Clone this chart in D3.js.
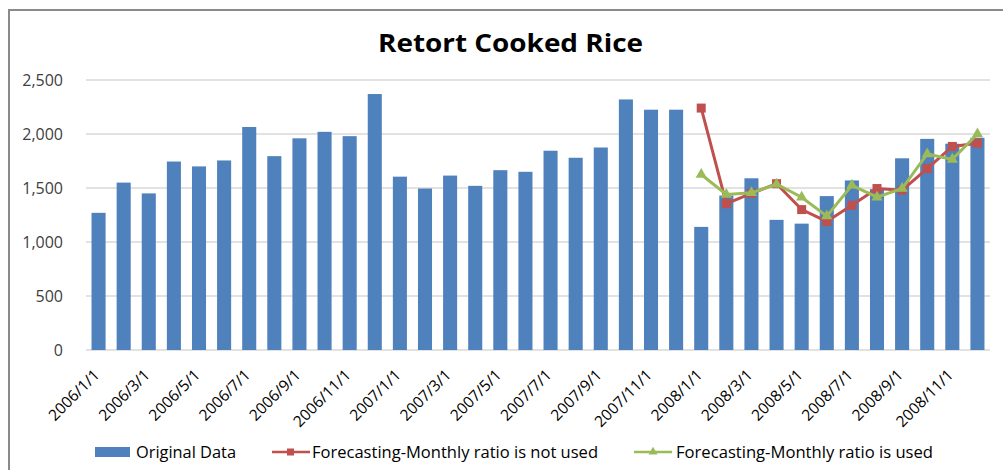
<!DOCTYPE html>
<html>
<head>
<meta charset="utf-8">
<script src="https://cdn.jsdelivr.net/npm/d3@7"></script>
<style>
  body { margin: 0; background: #fff; }
  svg { font-family: "Open Sans", "Noto Sans", sans-serif; }
</style>
</head>
<body>
<div id="chart"></div>
<script>
// Monthly data, 2006/1 .. 2008/12
const months = [];
for (let y = 2006; y <= 2008; y++) {
  for (let m = 1; m <= 12; m++) months.push(`${y}/${m}/1`);
}
const originalData = [
  1270, 1550, 1450, 1745, 1700, 1755, 2065, 1795, 1960, 2020, 1980, 2370,
  1605, 1495, 1615, 1520, 1665, 1650, 1845, 1780, 1875, 2320, 2225, 2225,
  1140, 1430, 1590, 1205, 1170, 1425, 1570, 1490, 1775, 1955, 1910, 1965
];
// forecasts start at 2008/1/1
const forecastMonths = months.slice(24);
const notUsed = [2240, 1355, 1450, 1540, 1300, 1190, 1340, 1495, 1480, 1680, 1885, 1915];
const used = [1625, 1440, 1455, 1535, 1415, 1240, 1525, 1415, 1495, 1815, 1765, 2000];
const yTicks = [0, 500, 1000, 1500, 2000, 2500];

const W = 1003, H = 470;
const margin = {top: 80, right: 13, bottom: 120, left: 86};
const width = W - margin.left - margin.right;
const height = H - margin.top - margin.bottom;

const svg = d3.select("#chart").append("svg")
  .attr("width", W)
  .attr("height", H);

// frame
svg.append("path")
  .attr("d", `M9,${H} V10 H${W}`)
  .attr("fill", "none")
  .attr("stroke", "#8a8a8a")
  .attr("stroke-width", 2);

svg.append("text")
  .attr("x", 378)
  .attr("y", 52)
  .attr("font-size", 25)
  .attr("font-weight", "bold")
  .attr("fill", "#000")
  .attr("textLength", 265)
  .attr("lengthAdjust", "spacingAndGlyphs")
  .text("Retort Cooked Rice");

const g = svg.append("g")
  .attr("transform", `translate(${margin.left},${margin.top})`);

const x = d3.scaleBand()
  .domain(months)
  .range([0, width])
  .paddingInner(0.44)
  .paddingOuter(0.22);

const y = d3.scaleLinear()
  .domain([0, 2500])
  .range([height, 0]);

// gridlines
g.append("g")
  .selectAll("line")
  .data(yTicks)
  .join("line")
  .attr("x1", 0)
  .attr("x2", width)
  .attr("y1", d => y(d))
  .attr("y2", d => y(d))
  .attr("stroke", "#d9d9d9")
  .attr("stroke-width", 1.5);

// y axis labels
const yAxis = g.append("g")
  .call(d3.axisLeft(y).tickValues(yTicks).tickFormat(d3.format(",")).tickSize(0).tickPadding(23));
yAxis.select(".domain").remove();
yAxis.selectAll("text")
  .attr("font-size", 16)
  .attr("fill", "#404040")
  .attr("font-family", "\"Open Sans\", sans-serif");

// bars
g.selectAll(".bar")
  .data(originalData)
  .join("rect")
  .attr("class", "bar")
  .attr("x", (d, i) => x(months[i]))
  .attr("width", x.bandwidth())
  .attr("y", d => y(d))
  .attr("height", d => height - y(d))
  .attr("fill", "#4f81bd");

// x axis labels every other month
const xAxis = g.append("g")
  .attr("transform", `translate(0,${height})`)
  .call(d3.axisBottom(x)
    .tickValues(months.filter((d, i) => i % 2 === 0))
    .tickSize(0)
    .tickPadding(0));
xAxis.select(".domain").remove();
xAxis.selectAll("text")
  .attr("font-size", 15.5)
  .attr("fill", "#000")
  .attr("font-family", "\"Open Sans\", sans-serif")
  .attr("text-anchor", "end")
  .attr("dy", 0)
  .attr("transform", "translate(2,26) rotate(-45)");

const cx = d => x(d) + x.bandwidth() / 2;

const line = d3.line()
  .x(d => cx(d[0]))
  .y(d => y(d[1]));

const redPts = forecastMonths.map((m, i) => [m, notUsed[i]]);
const greenPts = forecastMonths.map((m, i) => [m, used[i]]);

// red line: monthly ratio not used
g.append("path")
  .datum(redPts)
  .attr("d", line)
  .attr("fill", "none")
  .attr("stroke", "#c0504d")
  .attr("stroke-width", 3);

g.selectAll(".sq")
  .data(redPts)
  .join("rect")
  .attr("class", "sq")
  .attr("x", d => cx(d[0]) - 4.5)
  .attr("y", d => y(d[1]) - 4.5)
  .attr("width", 9)
  .attr("height", 9)
  .attr("fill", "#c0504d");

// green line: monthly ratio used
g.append("path")
  .datum(greenPts)
  .attr("d", line)
  .attr("fill", "none")
  .attr("stroke", "#9bbb59")
  .attr("stroke-width", 3);

const tri = d3.symbol().type(d3.symbolTriangle).size(55);
g.selectAll(".tri")
  .data(greenPts)
  .join("path")
  .attr("class", "tri")
  .attr("d", tri)
  .attr("transform", d => `translate(${cx(d[0])},${y(d[1])})`)
  .attr("fill", "#9bbb59");

// legend
const legend = svg.append("g").attr("transform", "translate(0,452)");
legend.append("rect")
  .attr("x", 95).attr("y", -5).attr("width", 35).attr("height", 10)
  .attr("fill", "#4f81bd");
legend.append("text")
  .attr("x", 136).attr("y", 6)
  .attr("font-size", 16).attr("fill", "#000")
  .attr("textLength", 100).attr("lengthAdjust", "spacingAndGlyphs")
  .text("Original Data");

legend.append("line")
  .attr("x1", 272).attr("x2", 310).attr("y1", 0).attr("y2", 0)
  .attr("stroke", "#c0504d").attr("stroke-width", 2.5);
legend.append("rect")
  .attr("x", 287).attr("y", -3.5).attr("width", 7).attr("height", 7)
  .attr("fill", "#c0504d");
legend.append("text")
  .attr("x", 312).attr("y", 6)
  .attr("font-size", 16).attr("fill", "#000")
  .attr("textLength", 286).attr("lengthAdjust", "spacingAndGlyphs")
  .text("Forecasting-Monthly ratio is not used");

legend.append("line")
  .attr("x1", 634).attr("x2", 672).attr("y1", 0).attr("y2", 0)
  .attr("stroke", "#9bbb59").attr("stroke-width", 2.5);
legend.append("path")
  .attr("d", d3.symbol().type(d3.symbolTriangle).size(35))
  .attr("transform", "translate(653,0)")
  .attr("fill", "#9bbb59");
legend.append("text")
  .attr("x", 676).attr("y", 6)
  .attr("font-size", 16).attr("fill", "#000")
  .attr("textLength", 257).attr("lengthAdjust", "spacingAndGlyphs")
  .text("Forecasting-Monthly ratio is used");
</script>
</body>
</html>
